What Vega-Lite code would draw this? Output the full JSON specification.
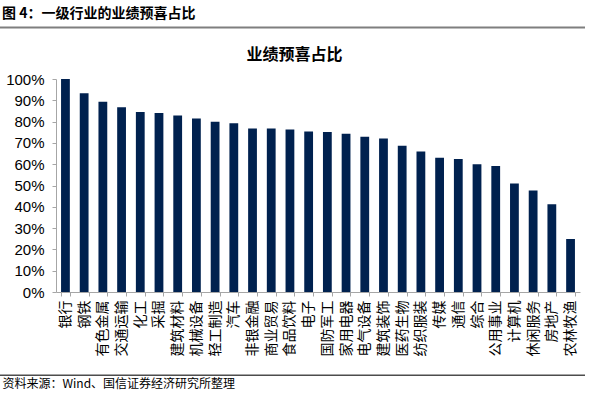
{
  "$schema": "https://vega.github.io/schema/vega-lite/v6.json",
  "width": 524,
  "height": 213,
  "autosize": {"type": "none"},
  "padding": {"left": 56, "top": 79, "right": 20, "bottom": 102},
  "background": "white",
  "config": {"view": {"stroke": null}, "font": "Noto Sans CJK SC"},
  "title": {
    "text": "图 4：一级行业的业绩预喜占比",
    "anchor": "start",
    "frame": "bounds",
    "fontSize": 14,
    "fontWeight": "bold",
    "font": "Noto Sans CJK SC",
    "color": "#000000",
    "baseline": "alphabetic",
    "offset": 9,
    "dx": 3,
    "dy": 14
  },
  "layer": [
    {
      "data": {
        "values": [
          {"industry": "银行", "share": 100},
          {"industry": "钢铁", "share": 93.3},
          {"industry": "有色金属", "share": 89.3},
          {"industry": "交通运输", "share": 86.7},
          {"industry": "化工", "share": 84.5},
          {"industry": "采掘", "share": 84.0},
          {"industry": "建筑材料", "share": 82.9},
          {"industry": "机械设备", "share": 81.5},
          {"industry": "轻工制造", "share": 79.9},
          {"industry": "汽车", "share": 79.2},
          {"industry": "非银金融", "share": 76.8},
          {"industry": "商业贸易", "share": 76.8},
          {"industry": "食品饮料", "share": 76.3},
          {"industry": "电子", "share": 75.4},
          {"industry": "国防军工", "share": 75.1},
          {"industry": "家用电器", "share": 74.3},
          {"industry": "电气设备", "share": 72.9},
          {"industry": "建筑装饰", "share": 72.1},
          {"industry": "医药生物", "share": 68.7},
          {"industry": "纺织服装", "share": 66.0},
          {"industry": "传媒", "share": 63.0},
          {"industry": "通信", "share": 62.5},
          {"industry": "综合", "share": 60.0},
          {"industry": "公用事业", "share": 59.1},
          {"industry": "计算机", "share": 50.9},
          {"industry": "休闲服务", "share": 47.6},
          {"industry": "房地产", "share": 41.2},
          {"industry": "农林牧渔", "share": 24.9}
        ]
      },
      "mark": {"type": "bar", "color": "#00214f"},
      "encoding": {
        "x": {
          "field": "industry",
          "type": "nominal",
          "sort": null,
          "scale": {"paddingInner": 0.53, "paddingOuter": 0.27},
          "axis": {
            "title": "资料来源：Wind、国信证券经济研究所整理",
            "titleX": -54,
            "titleY": 95,
            "titleAlign": "left",
            "titleAnchor": null,
            "titleBaseline": "alphabetic",
            "titleFontSize": 12,
            "titleFontWeight": "normal",
            "titleFont": "Noto Sans CJK SC",
            "titleColor": "#000000",
            "labelAngle": -90,
            "labelFontSize": 14,
            "labelFont": "Noto Sans CJK SC",
            "labelColor": "#000000",
            "labelPadding": 4,
            "labelOverlap": false,
            "tickBand": "extent",
            "tickSize": 4,
            "tickColor": "#a6a6a6",
            "domainColor": "#a6a6a6"
          }
        },
        "y": {
          "field": "share",
          "type": "quantitative",
          "scale": {"domain": [0, 100], "nice": false},
          "axis": {
            "title": null,
            "values": [0, 10, 20, 30, 40, 50, 60, 70, 80, 90, 100],
            "labelExpr": "datum.value + '%'",
            "grid": false,
            "labelFont": "Liberation Sans",
            "labelFontSize": 15,
            "labelColor": "#000000",
            "labelPadding": 8,
            "tickSize": 4,
            "tickColor": "#a6a6a6",
            "domainColor": "#a6a6a6"
          }
        }
      }
    },
    {
      "data": {"values": [{"p": 0}]},
      "mark": {"type": "rule", "opacity": 0},
      "encoding": {
        "x": {
          "field": "p",
          "type": "quantitative",
          "scale": {"domain": [0, 1], "range": [-56, 529]},
          "axis": {
            "orient": "top",
            "offset": 51.5,
            "labels": false,
            "ticks": false,
            "grid": false,
            "domain": false,
            "title": "业绩预喜占比",
            "titleX": 238,
            "titleY": 26.5,
            "titleAlign": "center",
            "titleAnchor": null,
            "titleBaseline": "middle",
            "titleAngle": 0,
            "titleFontSize": 16,
            "titleFontWeight": "bold",
            "titleFont": "Noto Sans CJK SC",
            "titleColor": "#000000"
          }
        }
      }
    },
    {
      "data": {"values": [{"edge": "header"}]},
      "mark": {"type": "rule", "color": "#7f7f7f", "strokeWidth": 2},
      "encoding": {
        "x": {"datum": 0, "type": "quantitative", "scale": {"domain": [0, 1], "range": [-56, 529]}, "axis": null},
        "x2": {"datum": 1},
        "y": {"field": "edge", "type": "nominal", "scale": {"type": "point", "domain": ["header", "footer"], "range": [-51.5, 296.3], "padding": 0}, "axis": null}
      }
    },
    {
      "data": {"values": [{"edge": "footer"}]},
      "mark": {"type": "rule", "color": "#4d4d4d", "strokeWidth": 1.5},
      "encoding": {
        "x": {"datum": 0, "type": "quantitative", "scale": {"domain": [0, 1], "range": [-56, 529]}, "axis": null},
        "x2": {"datum": 1},
        "y": {"field": "edge", "type": "nominal", "scale": {"type": "point", "domain": ["header", "footer"], "range": [-51.5, 296.3], "padding": 0}, "axis": null}
      }
    }
  ],
  "resolve": {"scale": {"x": "independent", "y": "independent"}}
}
